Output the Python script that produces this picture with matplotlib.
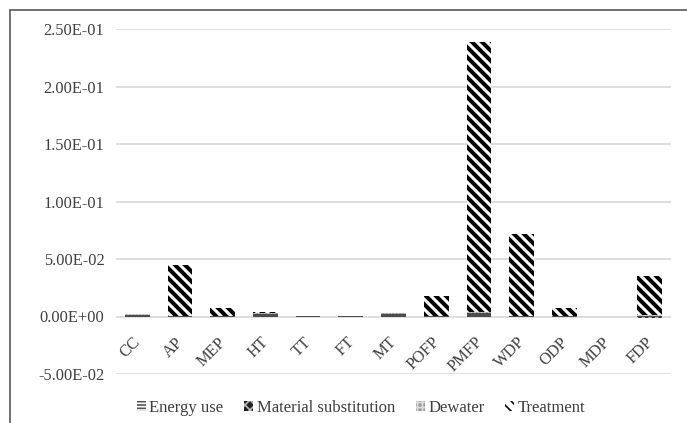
import matplotlib
matplotlib.use("Agg")
import matplotlib.pyplot as plt
import matplotlib.transforms as mtransforms
import numpy as np
from matplotlib.patches import Rectangle, Patch

categories = ['CC', 'AP', 'MEP', 'HT', 'TT', 'FT', 'MT', 'POFP', 'PMFP', 'WDP', 'ODP', 'MDP', 'FDP']
energy_use = [0.0015, 0.0004, 0.0003, 0.0025, 0.0002, 0.0002, 0.0025, 0.0006, 0.0030, 0.0004, 0.0002, 0.0, 0.0008]
material_substitution = [-0.0002, -0.0003, -0.0001, -0.0004, -0.0001, -0.0001, -0.0003, -0.0001, -0.0005, -0.0004, -0.0001, 0.0, -0.0012]
dewater = [0.0003, 0.0002, 0.0001, 0.0008, 0.0005, 0.0005, 0.0006, 0.0002, 0.0008, 0.0003, 0.0001, 0.0, 0.0004]
treatment = [0.0003, 0.0440, 0.0068, 0.0002, 0.0001, 0.0001, 0.0002, 0.0170, 0.2345, 0.0713, 0.0068, 0.0, 0.0340]
y_ticks = [-0.05, 0.0, 0.05, 0.10, 0.15, 0.20, 0.25]
y_tick_labels = ['-5.00E-02', '0.00E+00', '5.00E-02', '1.00E-01', '1.50E-01', '2.00E-01', '2.50E-01']
series_names = ['Energy use', 'Material substitution', 'Dewater', 'Treatment']

plt.rcParams['font.family'] = ['Liberation Serif', 'DejaVu Serif']
TXT = '#404040'

W, H, DPI = 687, 423, 120
fig = plt.figure(figsize=(W / DPI, H / DPI), dpi=DPI)
ax = fig.add_axes([116 / W, 1 - 374 / H, (671 - 116) / W, (374 - 29) / H])

# chart-area outline (only left/top visible in crop)
fig.patches.append(Rectangle((10 / W, -0.1), 1.2, (1 - 10 / H) + 0.1, transform=fig.transFigure,
                             fill=False, edgecolor='#595959', linewidth=1.0, zorder=10))

x = np.arange(len(categories))
width = 0.58

styles = [
    dict(facecolor='#7f7f7f', edgecolor='#333333', hatch='----------', hlw=0.8),
    dict(facecolor='#303030', edgecolor='#d0d0d0', hatch='xxxxxx', hlw=0.6),
    dict(facecolor='#a0a0a0', edgecolor='#e0e0e0', hatch='++++++', hlw=0.5),
    dict(facecolor='white', edgecolor='black', hatch='\\\\\\\\', hlw=2.4),
]
series = [energy_use, material_substitution, dewater, treatment]

pos_bottom = np.zeros(len(categories))
neg_bottom = np.zeros(len(categories))
handles = []
for name, vals, st in zip(series_names, series, styles):
    vals = np.array(vals, dtype=float)
    bottoms = np.where(vals >= 0, pos_bottom, neg_bottom)
    with plt.rc_context({'hatch.linewidth': st['hlw']}):
        ax.bar(x, vals, width, bottom=bottoms, facecolor=st['facecolor'],
               edgecolor=st['edgecolor'], hatch=st['hatch'], linewidth=0, zorder=3)
    pos_bottom = pos_bottom + np.where(vals >= 0, vals, 0)
    neg_bottom = neg_bottom + np.where(vals < 0, vals, 0)

legend_styles = [
    dict(facecolor='white', edgecolor='#555555', hatch='------', hlw=1.2),
    dict(facecolor='#202020', edgecolor='#bbbbbb', hatch='xxxx', hlw=0.8),
    dict(facecolor='#9a9a9a', edgecolor='#dddddd', hatch='++++', hlw=0.6),
    dict(facecolor='white', edgecolor='black', hatch='\\\\\\\\', hlw=2.0),
]
for name, st in zip(series_names, legend_styles):
    with plt.rc_context({'hatch.linewidth': st['hlw']}):
        handles.append(Patch(facecolor=st['facecolor'], edgecolor=st['edgecolor'],
                             hatch=st['hatch'], linewidth=0, label=name))

ax.set_xlim(-0.5, len(categories) - 0.5)
ax.set_ylim(-0.05, 0.25)
ax.set_yticks(y_ticks)
ax.set_yticklabels(y_tick_labels)
ax.yaxis.grid(True, color='#d9d9d9', linewidth=1.0, zorder=0)
ax.set_axisbelow(True)
for s in ['left', 'right', 'top']:
    ax.spines[s].set_visible(False)
ax.spines['bottom'].set_position(('data', 0))
ax.spines['bottom'].set_visible(False)
ax.tick_params(axis='y', length=0, pad=7, labelsize=9.8, labelcolor=TXT)
ax.tick_params(axis='x', length=0, pad=14, labelsize=9.8, labelcolor=TXT)
ax.set_xticks(x)
ax.set_xticklabels(categories, rotation=45, ha='right', va='center', rotation_mode='anchor')
offset = mtransforms.ScaledTranslation(1 / DPI, 0, fig.dpi_scale_trans)
for lbl in ax.get_xticklabels():
    lbl.set_transform(lbl.get_transform() + offset)

leg = fig.legend(handles=handles, loc='center', bbox_to_anchor=(361 / W, 1 - 408 / H),
                 ncol=4, frameon=False, fontsize=10, handlelength=0.55, handleheight=0.55,
                 handletextpad=0.2, columnspacing=1.25, labelcolor=TXT)

fig.savefig('out.png', dpi=DPI)
